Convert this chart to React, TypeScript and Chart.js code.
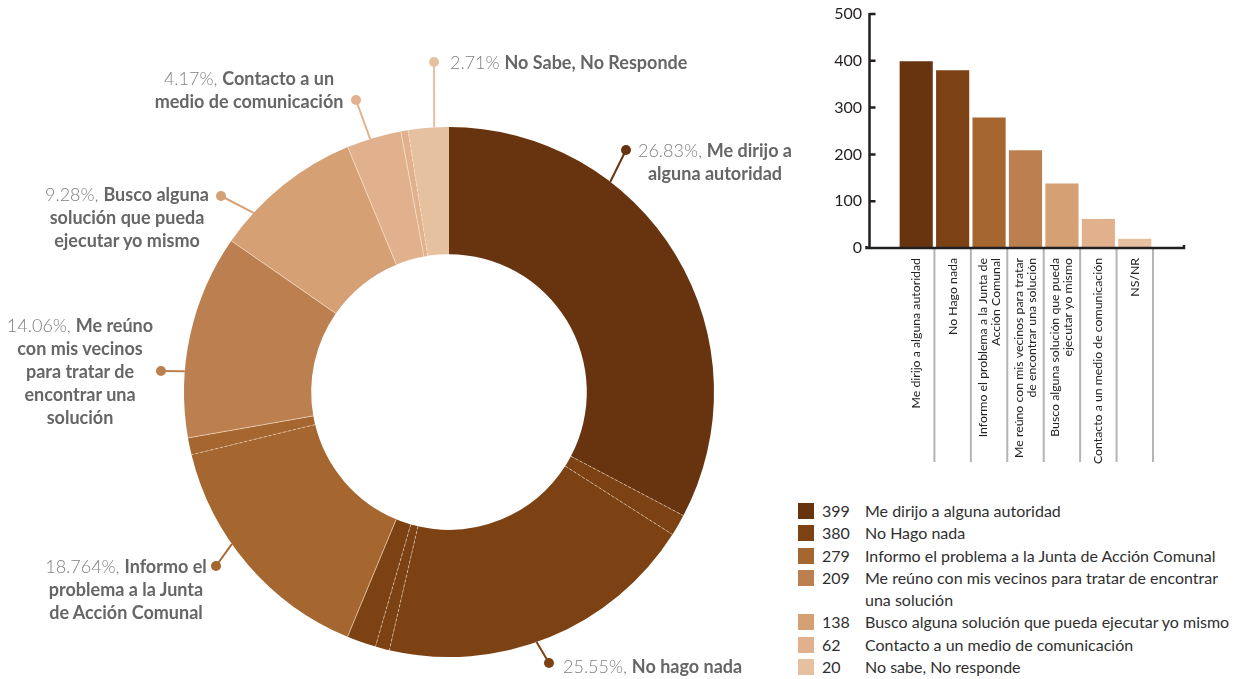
import React, { useEffect, useRef } from 'react';
import { Chart, registerables } from 'chart.js';

Chart.register(...registerables);

// ---------- data ----------
const categories = [
  'Me dirijo a alguna autoridad',
  'No Hago nada',
  'Informo el problema a la Junta de Acción Comunal',
  'Me reúno con mis vecinos para tratar de encontrar una solución',
  'Busco alguna solución que pueda ejecutar yo mismo',
  'Contacto a un medio de comunicación',
  'No sabe, No responde',
];
const barLabels = [
  ['Me dirijo a alguna autoridad'],
  ['No Hago nada'],
  ['Informo el problema a la Junta de', 'Acción Comunal'],
  ['Me reúno con mis vecinos para tratar', 'de encontrar una solución'],
  ['Busco alguna solución que pueda', 'ejecutar yo mismo'],
  ['Contacto a un medio de comunicación'],
  ['NS/NR'],
];
const counts = [399, 380, 279, 209, 138, 62, 20];
const yTicks = [0, 100, 200, 300, 400, 500];

const pieShareText = ['26.83%,', '25.55%,', '18.764%,', '14.06%,', '9.28%,', '4.17%,', '2.71%'];
const pieNameLines = [
  ['Me dirijo a', 'alguna autoridad'],
  ['No hago nada'],
  ['Informo el', 'problema a la Junta', 'de Acción Comunal'],
  ['Me reúno', 'con mis vecinos', 'para tratar de', 'encontrar una', 'solución'],
  ['Busco alguna', 'solución que pueda', 'ejecutar yo mismo'],
  ['Contacto a un', 'medio de comunicación'],
  ['No Sabe, No Responde'],
];

// ring sectors as drawn (percent of the circle, clockwise from the top) and the answer each belongs to
const ringShares = [32.72, 1.31, 19.58, 0.86, 1.78, 14.94, 1.03, 12.43, 9.1, 3.33, 0.44, 2.47];
const ringGroup = [0, 1, 1, 1, 1, 2, 2, 3, 4, 5, 5, 6];

// ---------- styles ----------
const colors = ['#67340f', '#7c4213', '#a5662f', '#bc8050', '#d4a074', '#e0b18c', '#e6c19f'];
const edgeStyle = ['none', 'dash', 'dash', 'dash', 'dash', 'solid', 'dash', 'solid', 'solid', 'solid', 'solid', 'dash'];
const FONT = 'Lato, "Open Sans", sans-serif';

// label layout: text anchor (x, first line centre y), dot position, angle (deg clockwise from top) where leader meets ring
const pieLayout = [
  { align: 'center', x: 715, y: 150, dot: [626, 150], edge: 37.5 },
  { align: 'left', x: 563, y: 666, dot: [549, 663], edge: 160.7 },
  { align: 'center', x: 126, y: 566, dot: [216, 566], edge: 235 },
  { align: 'center', x: 80, y: 325, dot: [161, 371], edge: 274.5 },
  { align: 'center', x: 127, y: 194, dot: [221, 196], edge: 312.5 },
  { align: 'center', x: 249, y: 78, dot: [356, 100], edge: 342.7 },
  { align: 'left', x: 450, y: 62, dot: [434, 62], edge: 356.8 },
];

const ringPlugin = {
  id: 'ringDecor',
  afterDatasetsDraw(chart: any) {
    const ctx = chart.ctx;
    const arcs = chart.getDatasetMeta(0).data;
    ctx.save();
    arcs.forEach((arc: any, i: number) => {
      const st = edgeStyle[i];
      if (st === 'none') return;
      const { x, y, startAngle, innerRadius, outerRadius } = arc.getProps(
        ['x', 'y', 'startAngle', 'innerRadius', 'outerRadius'],
        true
      );
      ctx.beginPath();
      ctx.setLineDash(st === 'dash' ? [3, 2] : []);
      ctx.strokeStyle = 'rgba(255,238,220,0.55)';
      ctx.lineWidth = 1;
      ctx.moveTo(x + innerRadius * Math.cos(startAngle), y + innerRadius * Math.sin(startAngle));
      ctx.lineTo(x + outerRadius * Math.cos(startAngle), y + outerRadius * Math.sin(startAngle));
      ctx.stroke();
    });
    const a0 = arcs[0];
    const cx = a0.x, cy = a0.y, R = a0.outerRadius;
    ctx.setLineDash([]);
    pieLayout.forEach((l, k) => {
      const a = ((l.edge - 90) * Math.PI) / 180;
      ctx.strokeStyle = colors[k];
      ctx.fillStyle = colors[k];
      ctx.lineWidth = 2;
      ctx.beginPath();
      ctx.moveTo(l.dot[0], l.dot[1]);
      ctx.lineTo(cx + R * Math.cos(a), cy + R * Math.sin(a));
      ctx.stroke();
      ctx.beginPath();
      ctx.arc(l.dot[0], l.dot[1], 5, 0, Math.PI * 2);
      ctx.fill();
    });
    ctx.restore();
  },
};

const axesPlugin = {
  id: 'axesDecor',
  afterDraw(chart: any) {
    const { ctx, chartArea } = chart;
    const x = chart.scales.x;
    const y = chart.scales.y;
    const ax = chartArea.left - 28.5;
    const y0 = y.getPixelForValue(0);
    const yTop = y.getPixelForValue(500);
    ctx.save();
    // category separators
    ctx.strokeStyle = '#b4b4b4';
    ctx.lineWidth = 2;
    const step = x.getPixelForValue(1) - x.getPixelForValue(0);
    counts.forEach((_, i) => {
      const px = x.getPixelForValue(i) + step / 2;
      ctx.beginPath();
      ctx.moveTo(px, y0 + 1);
      ctx.lineTo(px, 462);
      ctx.stroke();
    });
    // category labels, each block centred on its tick
    ctx.fillStyle = '#222222';
    ctx.font = '400 12.3px ' + FONT;
    ctx.textAlign = 'right';
    ctx.textBaseline = 'middle';
    const lh = 13;
    barLabels.forEach((lines, i) => {
      const px = x.getPixelForValue(i);
      lines.forEach((t, j) => {
        const lx = px + (j - (lines.length - 1) / 2) * lh;
        ctx.save();
        ctx.translate(lx, y0 + 10);
        ctx.rotate(-Math.PI / 2);
        ctx.fillText(t, 0, 0);
        ctx.restore();
      });
    });
    // axes
    ctx.strokeStyle = '#231f20';
    ctx.lineWidth = 2.5;
    ctx.beginPath();
    ctx.moveTo(ax, yTop - 1);
    ctx.lineTo(ax, y0 + 1);
    yTicks.forEach((v) => {
      if (v === 0) return;
      const py = y.getPixelForValue(v);
      ctx.moveTo(ax, py);
      ctx.lineTo(ax + 6, py);
    });
    const xEnd = chartArea.right + 31;
    ctx.moveTo(ax - 3, y0 - 2);
    ctx.lineTo(ax - 3, y0);
    ctx.lineTo(xEnd, y0);
    ctx.lineTo(xEnd, y0 - 3);
    ctx.stroke();
    ctx.restore();
  },
};

export default function App() {
  const ringRef = useRef<HTMLCanvasElement>(null);
  const barRef = useRef<HTMLCanvasElement>(null);

  useEffect(() => {
    const ring = new Chart(ringRef.current as HTMLCanvasElement, {
      type: 'doughnut',
      data: {
        labels: ringGroup.map((g) => categories[g]),
        datasets: [
          {
            data: ringShares,
            backgroundColor: ringGroup.map((g) => colors[g]),
            borderWidth: 0,
          },
        ],
      },
      options: {
        responsive: false,
        animation: false,
        events: [],
        cutout: '52%',
        layout: { padding: { left: 184, top: 127, right: 66, bottom: 22 } },
        plugins: { legend: { display: false }, tooltip: { enabled: false } },
      },
      plugins: [ringPlugin],
    });

    const bar = new Chart(barRef.current as HTMLCanvasElement, {
      type: 'bar',
      data: {
        labels: barLabels.map((l) => l.join(' ')),
        datasets: [
          {
            data: counts,
            backgroundColor: colors,
            borderWidth: 0,
            categoryPercentage: 0.91,
            barPercentage: 1,
          },
        ],
      },
      options: {
        responsive: false,
        animation: false,
        events: [],
        layout: { padding: { left: 0, top: 14, right: 84, bottom: 0 } },
        plugins: { legend: { display: false }, tooltip: { enabled: false } },
        scales: {
          x: {
            grid: { display: false, drawTicks: false },
            border: { display: false },
            afterFit: (s: any) => {
              s.height = 232;
            },
            ticks: { display: false, autoSkip: false },
          },
          y: {
            min: 0,
            max: 500,
            afterFit: (s: any) => {
              s.width = 118;
            },
            grid: { display: false, drawTicks: true, tickLength: 32 },
            border: { display: false },
            ticks: {
              stepSize: 100,
              padding: 4,
              color: '#231f20',
              font: { family: FONT, size: 16 },
            },
          },
        },
      },
      plugins: [axesPlugin],
    });

    return () => {
      ring.destroy();
      bar.destroy();
    };
  }, []);

  return (
    <div
      style={{
        position: 'fixed',
        left: 0,
        top: 0,
        width: 1237,
        height: 679,
        background: '#fff',
        overflow: 'hidden',
        fontFamily: FONT,
      }}
    >
      <canvas ref={ringRef} width={780} height={679} style={{ position: 'absolute', left: 0, top: 0 }} />
      <canvas ref={barRef} width={457} height={480} style={{ position: 'absolute', left: 780, top: 0 }} />

      {pieLayout.map((l, k) => (
        <div
          key={k}
          style={{
            position: 'absolute',
            left: l.align === 'left' ? l.x : l.x - 150,
            top: l.y - 11.5,
            width: l.align === 'left' ? undefined : 300,
            textAlign: l.align === 'left' ? 'left' : 'center',
            fontSize: 18,
            lineHeight: '23px',
            color: '#666666',
            whiteSpace: 'nowrap',
          }}
        >
          {pieNameLines[k].map((line, j) => (
            <div key={j}>
              {j === 0 && <span style={{ fontWeight: 300, color: '#808080' }}>{pieShareText[k]} </span>}
              <span style={{ fontWeight: 700 }}>{line}</span>
            </div>
          ))}
        </div>
      ))}

      <div style={{ position: 'absolute', left: 798, top: 500, color: '#2f2f2f', fontSize: 16, lineHeight: '22.3px' }}>
        {categories.map((c, i) => (
          <div key={i} style={{ display: 'flex', alignItems: 'flex-start' }}>
            <div style={{ width: 16, height: 16, marginTop: 3, background: colors[i], flex: '0 0 16px' }} />
            <div style={{ paddingLeft: 8, boxSizing: 'border-box', flex: '0 0 51px' }}>{counts[i]}</div>
            <div style={{ width: 370 }}>{c}</div>
          </div>
        ))}
      </div>
    </div>
  );
}
